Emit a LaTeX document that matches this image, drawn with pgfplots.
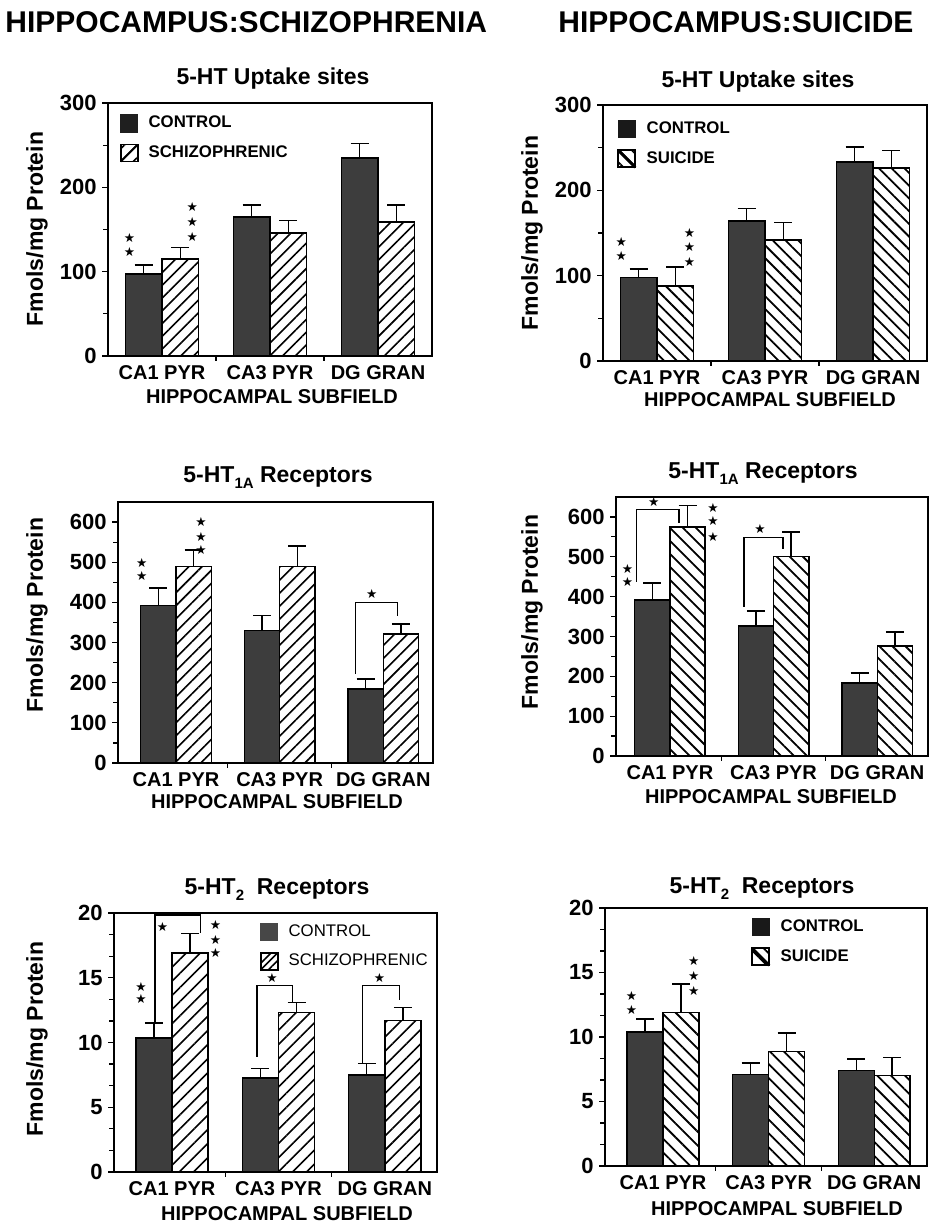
\documentclass[border=0pt]{standalone}
\usepackage{fontspec}
\setmainfont{Liberation Sans}
\newfontfamily\dejavu{DejaVu Sans}
\usepackage{pgfplots}
\usepackage{pgfplotstable}
\pgfplotsset{compat=1.18}
\usetikzlibrary{patterns.meta}

\newcommand\fs[1]{\fontsize{#1}{#1}\selectfont\bfseries}
\newcommand\st{\dejavu\fontsize{6.3}{6.3}\selectfont ★}

\pgfplotstableread{
xc xs c ce s se
-0.17 0.17 97 11 115 14
0.83 1.17 165 14 146 15
1.83 2.17 235 17 159 20
}\tA
\pgfplotstableread{
xc xs c ce s se
-0.17 0.17 98 10 88 22
0.83 1.17 164 15 142 20
1.83 2.17 233 18 226 21
}\tB
\pgfplotstableread{
xc xs c ce s se
-0.17 0.17 392 44 490 40
0.83 1.17 330 38 490 50
1.83 2.17 184 25 321 25
}\tC
\pgfplotstableread{
xc xs c ce s se
-0.17 0.17 392 42 575 53
0.83 1.17 326 38 500 62
1.83 2.17 183 25 276 35
}\tD
\pgfplotstableread{
xc xs c ce s se
-0.17 0.17 10.35 1.15 16.9 1.5
0.83 1.17 7.25 0.75 12.3 0.8
1.83 2.17 7.5 0.9 11.7 1.0
}\tE
\pgfplotstableread{
xc xs c ce s se
-0.17 0.17 10.4 1.0 11.9 2.2
0.83 1.17 7.1 0.9 8.9 1.4
1.83 2.17 7.4 0.9 7.0 1.4
}\tF

\pgfplotsset{
 panel/.style={
  scale only axis, anchor=south west, clip=false,
  ymin=0,
  xtick={0,1,2}, xticklabels={CA1 PYR,CA3 PYR,DG GRAN},
  minor xtick={0.5,1.5},
  tick pos=left,
  tick align=outside, major tick length=3pt, minor tick length=2.4pt,
  major x tick style={draw=none},
  axis line style={line width=0.7pt},
  every tick/.style={black, line width=0.6pt},
  /pgf/number format/assume math mode=true,
  yticklabel style={font=\fs{11}, xshift=0.8pt},
  xticklabel style={font=\fs{10}, yshift=1.8pt},
  legend cell align=left,
  legend style={draw=none, fill=none, inner sep=0pt, outer sep=0pt, anchor=north west,
    row sep=5.5pt, column sep=5pt, font=\fs{8.4}, nodes={inner sep=0pt}},
 },
 ebar/.style={error bars/y dir=plus, error bars/y explicit,
   error bars/error bar style={line width=0.7pt, black, solid},
   error bars/error mark options={rotate=90, mark size=4.5pt, line width=0.7pt, black}},
 ctrl/.style={ybar, bar width=0.34, bar shift=0, fill=black!76, draw=black, line width=0.7pt, ebar},
 schz/.style={ybar, bar width=0.34, bar shift=0, draw=black, line width=0.7pt,
   pattern={Lines[angle=45,distance=#1,line width=0.8pt]}, ebar},
 suic/.style={ybar, bar width=0.34, bar shift=0, draw=black, line width=0.7pt,
   pattern={Lines[angle=-45,distance=#1,line width=0.9pt]}, ebar},
 ctrlleg/.style={legend image code/.code={\fill[black!#1] (0pt,-4.25pt) rectangle (8.5pt,4.25pt);}},
 schzleg/.style={legend image code/.code={\draw[line width=0.8pt] (0pt,-4.25pt) rectangle (8.5pt,4.25pt); \draw[line width=0.8pt] (0pt,-4.25pt) -- (8.5pt,4.25pt);}},
 suicleg/.style={legend image code/.code={\draw[line width=1pt] (0pt,-4.25pt) rectangle (8.5pt,4.25pt); \draw[line width=1.4pt] (0pt,4.25pt) -- (8.5pt,-4.25pt);}},
}

\begin{document}
\begin{tikzpicture}
\useasboundingbox (0,0) rectangle (464pt,-612pt);
\node[anchor=west, inner sep=0] at (2.5pt,-11pt) {\fs{15}HIPPOCAMPUS:SCHIZOPHRENIA};
\node[anchor=west, inner sep=0] at (279pt,-11pt) {\fs{15}HIPPOCAMPUS:SUICIDE};

% ---------- Panel 1
\begin{axis}[panel, at={(54pt,-178pt)}, width=162pt, height=126.5pt, xmin=-0.5, xmax=2.5,
  ymax=300, ytick={0,100,200,300}, minor y tick num=1,
  legend style={at={(axis description cs:0.037,0.955)}}]
\addplot[ctrl, ctrlleg=88] table[x=xc,y=c,y error=ce]{\tA};
\addplot[schz=4.5pt, schzleg] table[x=xs,y=s,y error=se]{\tA};
\legend{CONTROL,SCHIZOPHRENIC}
\node[inner sep=0] at (axis cs:-0.30,140) {\st};
\node[inner sep=0] at (axis cs:-0.30,123) {\st};
\node[inner sep=0] at (axis cs:0.28,177) {\st};
\node[inner sep=0] at (axis cs:0.28,159) {\st};
\node[inner sep=0] at (axis cs:0.28,141) {\st};
\end{axis}

% ---------- Panel 2
\begin{axis}[panel, at={(301.5pt,-180.5pt)}, width=162pt, height=128pt, xmin=-0.5, xmax=2.5,
  ymax=300, ytick={0,100,200,300}, minor y tick num=1,
  legend style={at={(axis description cs:0.043,0.943)}}]
\addplot[ctrl, ctrlleg=90] table[x=xc,y=c,y error=ce]{\tB};
\addplot[suic=4.5pt, suicleg] table[x=xs,y=s,y error=se]{\tB};
\legend{CONTROL,SUICIDE}
\node[inner sep=0] at (axis cs:-0.33,139) {\st};
\node[inner sep=0] at (axis cs:-0.33,123) {\st};
\node[inner sep=0] at (axis cs:0.30,150) {\st};
\node[inner sep=0] at (axis cs:0.30,134) {\st};
\node[inner sep=0] at (axis cs:0.30,116) {\st};
\end{axis}

% ---------- Panel 3
\begin{axis}[panel, at={(59pt,-381.5pt)}, width=157.5pt, height=130.5pt, xmin=-0.56, xmax=2.48,
  ymax=650, ytick={0,100,...,600}, minor y tick num=1]
\addplot[ctrl] table[x=xc,y=c,y error=ce]{\tC};
\addplot[schz=4.6pt] table[x=xs,y=s,y error=se]{\tC};
\node[inner sep=0] at (axis cs:-0.33,498) {\st};
\node[inner sep=0] at (axis cs:-0.33,466) {\st};
\node[inner sep=0] at (axis cs:0.24,600) {\st};
\node[inner sep=0] at (axis cs:0.24,563) {\st};
\node[inner sep=0] at (axis cs:0.24,530) {\st};
\draw[line width=0.7pt] (axis cs:1.73,222) |- (axis cs:2.135,400) -- (axis cs:2.135,366);
\node[inner sep=0] at (axis cs:1.89,420) {\st};
\end{axis}

% ---------- Panel 4
\begin{axis}[panel, at={(308pt,-378pt)}, width=156pt, height=129.5pt, xmin=-0.52, xmax=2.49,
  ymax=650, ytick={0,100,...,600}, minor y tick num=1]
\addplot[ctrl] table[x=xc,y=c,y error=ce]{\tD};
\addplot[suic=4.6pt] table[x=xs,y=s,y error=se]{\tD};
\draw[line width=0.7pt] (axis cs:-0.32,437) |- (axis cs:0.087,618) -- (axis cs:0.087,585);
\node[inner sep=0] at (axis cs:-0.155,637) {\st};
\draw[line width=0.7pt] (axis cs:0.715,374) |- (axis cs:1.09,549) -- (axis cs:1.09,520);
\node[inner sep=0] at (axis cs:0.87,570) {\st};
\node[inner sep=0] at (axis cs:-0.41,470) {\st};
\node[inner sep=0] at (axis cs:-0.41,437) {\st};
\node[inner sep=0] at (axis cs:0.415,622) {\st};
\node[inner sep=0] at (axis cs:0.415,590) {\st};
\node[inner sep=0] at (axis cs:0.415,550) {\st};
\end{axis}

% ---------- Panel 5
\begin{axis}[panel, at={(57pt,-586pt)}, width=161.5pt, height=129.5pt, xmin=-0.545, xmax=2.49,
  ymax=20, ytick={0,5,10,15,20}, minor y tick num=2,
  legend style={at={(axis description cs:0.452,0.963)}, font=\fontsize{8.4}{8.4}\selectfont}]
\addplot[ctrl, ctrlleg=72] table[x=xc,y=c,y error=ce]{\tE};
\addplot[schz=5pt, schzleg] table[x=xs,y=s,y error=se]{\tE};
\legend{CONTROL,SCHIZOPHRENIC}
\draw[line width=0.7pt] (axis cs:-0.16,11.6) |- (axis cs:0.27,19.85) -- (axis cs:0.27,18.45);
\node[inner sep=0] at (axis cs:-0.09,18.9) {\st};
\node[inner sep=0] at (axis cs:0.41,19.07) {\st};
\node[inner sep=0] at (axis cs:0.41,17.9) {\st};
\node[inner sep=0] at (axis cs:0.41,16.9) {\st};
\node[inner sep=0] at (axis cs:-0.29,14.3) {\st};
\node[inner sep=0] at (axis cs:-0.29,13.4) {\st};
\draw[line width=0.7pt] (axis cs:0.80,8.9) |- (axis cs:1.135,14.4) -- (axis cs:1.135,13.1);
\node[inner sep=0] at (axis cs:0.94,15.0) {\st};
\draw[line width=0.7pt] (axis cs:1.79,8.4) |- (axis cs:2.14,14.4) -- (axis cs:2.14,13.3);
\node[inner sep=0] at (axis cs:1.95,15.0) {\st};
\end{axis}

% ---------- Panel 6
\begin{axis}[panel, at={(302.5pt,-583pt)}, width=161pt, height=129pt, xmin=-0.55, xmax=2.5,
  ymax=20, ytick={0,5,10,15,20}, minor y tick num=2,
  legend style={at={(axis description cs:0.453,0.963)}}]
\addplot[ctrl, ctrlleg=90] table[x=xc,y=c,y error=ce]{\tF};
\addplot[suic=4.9pt, suicleg] table[x=xs,y=s,y error=se]{\tF};
\legend{CONTROL,SUICIDE}
\node[inner sep=0] at (axis cs:-0.30,13.2) {\st};
\node[inner sep=0] at (axis cs:-0.30,12.1) {\st};
\node[inner sep=0] at (axis cs:0.29,15.9) {\st};
\node[inner sep=0] at (axis cs:0.29,14.7) {\st};
\node[inner sep=0] at (axis cs:0.29,13.6) {\st};
\end{axis}

% ---------- titles
\node[anchor=base] at (136.5pt,-42.5pt) {\fs{11.5}5-HT Uptake sites};
\node[anchor=base] at (379pt,-44pt) {\fs{11.5}5-HT Uptake sites};
\node[anchor=base] at (139pt,-241pt) {\fs{11.5}5-HT\raisebox{-3pt}{\fs{7.5}1A} Receptors};
\node[anchor=base] at (381.5pt,-239pt) {\fs{11.5}5-HT\raisebox{-3pt}{\fs{7.5}1A} Receptors};
\node[anchor=base] at (138.5pt,-447pt) {\fs{11.5}5-HT\raisebox{-3pt}{\fs{7.5}2}\ \ Receptors};
\node[anchor=base] at (381pt,-446.5pt) {\fs{11.5}5-HT\raisebox{-3pt}{\fs{7.5}2}\ \ Receptors};
% ---------- x labels
\node[anchor=base] at (136pt,-202pt) {\fs{10}HIPPOCAMPAL SUBFIELD};
\node[anchor=base] at (385pt,-203.5pt) {\fs{10}HIPPOCAMPAL SUBFIELD};
\node[anchor=base] at (138.5pt,-404pt) {\fs{10}HIPPOCAMPAL SUBFIELD};
\node[anchor=base] at (385.5pt,-401.5pt) {\fs{10}HIPPOCAMPAL SUBFIELD};
\node[anchor=base] at (143.5pt,-610pt) {\fs{10}HIPPOCAMPAL SUBFIELD};
\node[anchor=base] at (388.5pt,-607.5pt) {\fs{10}HIPPOCAMPAL SUBFIELD};
% ---------- y labels
\node[rotate=90] at (18.5pt,-114.5pt) {\fs{11.5}Fmols/mg Protein};
\node[rotate=90] at (266pt,-116.5pt) {\fs{11.5}Fmols/mg Protein};
\node[rotate=90] at (18.5pt,-307.5pt) {\fs{11.5}Fmols/mg Protein};
\node[rotate=90] at (266pt,-306pt) {\fs{11.5}Fmols/mg Protein};
\node[rotate=90] at (18.5pt,-519.5pt) {\fs{11.5}Fmols/mg Protein};
\end{tikzpicture}
\end{document}
